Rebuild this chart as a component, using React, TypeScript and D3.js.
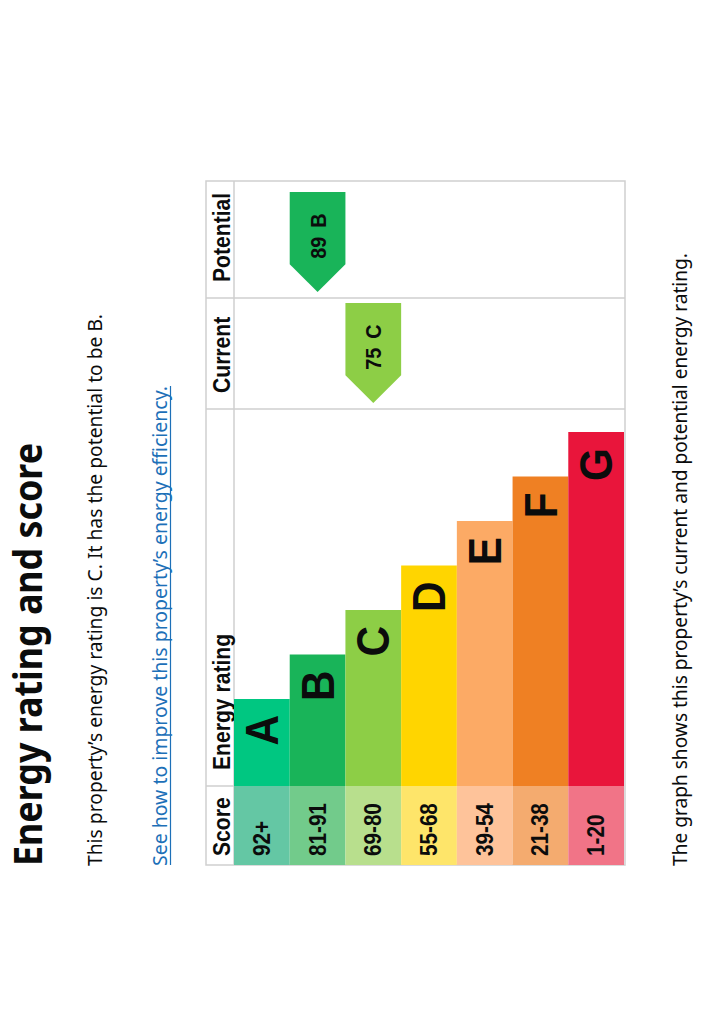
import React from 'react';
import * as d3 from 'd3';

// rating bands, best to worst
const bands = ['A', 'B', 'C', 'D', 'E', 'F', 'G'];
const scoreRanges = ['92+', '81-91', '69-80', '55-68', '39-54', '21-38', '1-20'];
const headers = ['Score', 'Energy rating', 'Current', 'Potential'];

const currentScore = 75;
const currentBand = 'C';
const potentialScore = 89;
const potentialBand = 'B';

const titleText = 'Energy rating and score';
const summaryText = 'This property\u2019s energy rating is C. It has the potential to be B.';
const linkText = 'See how to improve this property\u2019s energy efficiency.';
const footerText = 'The graph shows this property\u2019s current and potential energy rating.';

const bandColors = ['#00c781', '#19b459', '#8dce46', '#ffd500', '#fcaa65', '#ef8023', '#e9153b'];
const scoreColors = ['#64c7a4', '#72cb8b', '#b8df8d', '#fee56a', '#fec39a', '#f4ab6f', '#f17487'];

const W = 724;
const H = 1024;
const ink = '#0b0c0c';
const tableFont = '"Liberation Sans", Arial, sans-serif';
const textFont = '"Noto Sans", "Open Sans", sans-serif';
const squeeze = 0.88;

export default function App() {
  // the page is drawn turned a quarter: local u runs up the screen, v runs right
  const colEdges = [159, 238, 615, 726, 843];
  const top = 206;
  const headBottom = 234;
  const bottom = 625;

  const row = d3.scaleBand<string>().domain(bands).range([headBottom, 624]).padding(0);
  const barLen = d3.scaleLinear().domain([0, bands.length - 1]).range([87, 354]);
  const bh = row.bandwidth();

  const arrow = (col: number, score: number, band: string) => {
    const u0 = colEdges[col] + 6;
    const y0 = row(band)!;
    const yc = y0 + bh / 2;
    const pts: [number, number][] = [
      [u0, yc], [u0 + bh / 2, y0], [u0 + 100, y0], [u0 + 100, y0 + bh], [u0 + bh / 2, y0 + bh],
    ];
    const color = bandColors[bands.indexOf(band)];
    return (
      <g key={'arrow' + col}>
        <path d={d3.line()(pts)! + 'Z'} fill={color} />
        <text transform={`translate(${u0 + 56},${yc}) scale(${squeeze},1)`} textAnchor="middle"
          dominantBaseline="central" fontFamily={tableFont} fontWeight="bold" fontSize={22.5}
          fill={ink} wordSpacing={4}>
          {score + ' ' + band}
        </text>
      </g>
    );
  };

  const headerOffsets = [9, 16, 16, 16];

  return (
    <svg width={W} height={H} style={{ position: 'absolute', left: 0, top: 0, background: '#fff' }}>
      <g transform={`translate(0,${H}) rotate(-90)`}>
        <text x={158} y={42} fontFamily={textFont} fontWeight="bold" fontSize={40} fill={ink}
          textLength={423} lengthAdjust="spacingAndGlyphs">{titleText}</text>
        <text x={158} y={102} fontFamily={textFont} fontSize={19.5} fill={ink}
          textLength={552} lengthAdjust="spacingAndGlyphs">{summaryText}</text>
        <text x={158} y={167} fontFamily={textFont} fontSize={19.5} fill="#1d70b8"
          textLength={480} lengthAdjust="spacingAndGlyphs">{linkText}</text>
        <line x1={159} x2={638} y1={170.5} y2={170.5} stroke="#1d70b8" strokeWidth={1.2} />
        <text x={158} y={687} fontFamily={textFont} fontSize={19.5} fill={ink}
          textLength={613} lengthAdjust="spacingAndGlyphs">{footerText}</text>

        {/* table grid */}
        <rect x={colEdges[0]} y={top} width={colEdges[4] - colEdges[0]} height={bottom - top}
          fill="#fff" stroke="#cfcfcf" strokeWidth={1.5} />
        <line x1={colEdges[0]} x2={colEdges[4]} y1={headBottom} y2={headBottom} stroke="#cfcfcf" strokeWidth={1.5} />
        <line x1={colEdges[1]} x2={colEdges[1]} y1={top} y2={headBottom} stroke="#cfcfcf" strokeWidth={1.5} />
        <line x1={colEdges[2]} x2={colEdges[2]} y1={top} y2={bottom} stroke="#cfcfcf" strokeWidth={1.5} />
        <line x1={colEdges[3]} x2={colEdges[3]} y1={top} y2={bottom} stroke="#cfcfcf" strokeWidth={1.5} />

        {headers.map((h, i) => (
          <text key={h} transform={`translate(${colEdges[i] + headerOffsets[i]},230) scale(${squeeze},1)`}
            fontFamily={tableFont} fontWeight="bold" fontSize={24} fill={ink}>{h}</text>
        ))}

        {bands.map((b, i) => {
          const y0 = row(b)!;
          const yc = y0 + bh / 2;
          const end = colEdges[1] + barLen(i);
          return (
            <g key={b}>
              <rect x={colEdges[0]} y={y0} width={colEdges[1] - colEdges[0]} height={bh} fill={scoreColors[i]} />
              <rect x={colEdges[1]} y={y0} width={barLen(i)} height={bh} fill={bandColors[i]} />
              <text transform={`translate(${colEdges[0] + 9},${yc}) scale(${squeeze},1)`}
                dominantBaseline="central" fontFamily={tableFont} fontWeight="bold" fontSize={23.5}
                fill={ink}>{scoreRanges[i]}</text>
              <text transform={`translate(${end - 16},${yc}) scale(0.92,1)`} textAnchor="end"
                dominantBaseline="central" fontFamily={tableFont} fontWeight="bold" fontSize={46}
                fill={ink}>{b}</text>
            </g>
          );
        })}

        {arrow(2, currentScore, currentBand)}
        {arrow(3, potentialScore, potentialBand)}
      </g>
    </svg>
  );
}
